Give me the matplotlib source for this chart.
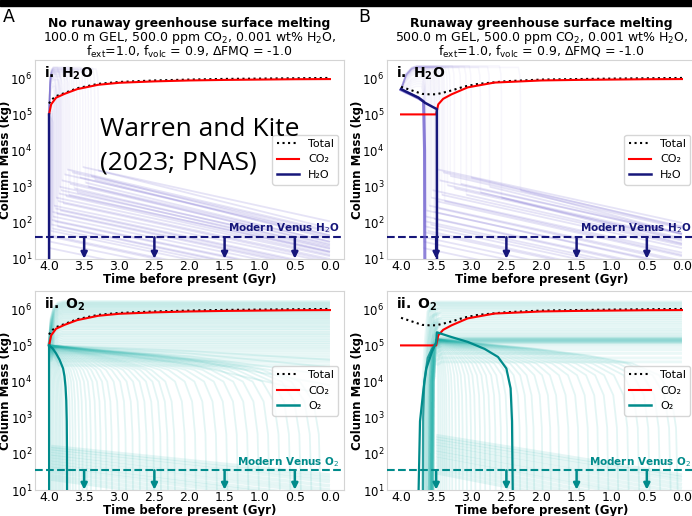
import matplotlib
matplotlib.use("Agg")
import matplotlib.pyplot as plt
from matplotlib.patches import Rectangle
from matplotlib.lines import Line2D

plt.rcParams['font.family'] = ['DejaVu Sans']
plt.rcParams['mathtext.fontset'] = 'dejavusans'

# ---------------- data ----------------
time_ticks = [4.0, 3.5, 3.0, 2.5, 2.0, 1.5, 1.0, 0.5, 0.0]
time_ticklabels = ["4.0", "3.5", "3.0", "2.5", "2.0", "1.5", "1.0", "0.5", "0.0"]
mass_ticks = [1e1, 1e2, 1e3, 1e4, 1e5, 1e6]
mass_ticklabels = [r"$10^{1}$", r"$10^{2}$", r"$10^{3}$", r"$10^{4}$", r"$10^{5}$", r"$10^{6}$"]
arrow_times = [3.5, 2.5, 1.5, 0.5]
venus_h2o = 40.0
venus_o2 = 35.0

panel_letters = ["A", "B"]
titles_bold = ["No runaway greenhouse surface melting", "Runaway greenhouse surface melting"]
titles_params = [r"100.0 m GEL, 500.0 ppm CO$_2$, 0.001 wt% H$_2$O,",
                 r"500.0 m GEL, 500.0 ppm CO$_2$, 0.001 wt% H$_2$O,"]
title_line3 = r"f$_{\rm ext}$=1.0, f$_{\rm volc}$ = 0.9, ΔFMQ = -1.0"
legend_labels = ["Total", "CO₂", "H₂O", "O₂"]

# ---- Panel A (no runaway) highlighted run ----
a_co2_t = [4.0, 3.97, 3.9, 3.78, 3.6, 3.3, 3.0, 2.5, 2.0, 1.5, 1.0, 0.5, 0.0]
a_co2_v = [1.0e5, 1.9e5, 2.9e5, 3.7e5, 5.0e5, 6.6e5, 7.5e5, 8.2e5, 8.7e5, 9.0e5, 9.2e5, 9.4e5, 9.5e5]
a_tot_t = [4.0, 3.97, 3.9, 3.78, 3.6, 3.3, 3.0, 2.5, 2.0, 1.5, 1.0, 0.5, 0.0]
a_tot_v = [2.0e5, 2.5e5, 3.2e5, 3.9e5, 5.3e5, 7.0e5, 7.9e5, 8.7e5, 9.2e5, 9.6e5, 9.8e5, 1.0e6, 1.02e6]
a_h2o_t = [4.0, 3.999]
a_h2o_v = [1.0e5, 1.0]
a_o2_t1 = [4.0, 3.999]
a_o2_v1 = [1.0e5, 1.0]
a_o2_t2 = [4.0, 3.95, 3.9, 3.85, 3.8, 3.78, 3.765, 3.755, 3.748, 3.744, 3.742]
a_o2_v2 = [1.0e5, 8.3e4, 6.0e4, 4.0e4, 2.3e4, 1.4e4, 7.0e3, 3.0e3, 8.0e2, 1.0e2, 1.0]

# ---- Panel B (runaway) highlighted run ----
b_co2_t = [4.0, 3.5, 3.47, 3.4, 3.28, 3.05, 2.67, 2.0, 1.5, 1.0, 0.5, 0.0]
b_co2_v = [1.0e5, 1.0e5, 1.9e5, 2.7e5, 3.6e5, 5.6e5, 7.6e5, 8.7e5, 9.0e5, 9.2e5, 9.4e5, 9.5e5]
b_tot_t = [4.0, 3.9, 3.8, 3.7, 3.6, 3.5, 3.4, 3.28, 3.1, 2.9, 2.5, 2.0, 1.0, 0.0]
b_tot_v = [5.8e5, 5.0e5, 4.3e5, 3.7e5, 3.6e5, 3.6e5, 4.0e5, 4.6e5, 5.9e5, 7.0e5, 8.3e5, 9.2e5, 9.8e5, 1.02e6]
b_h2o_t = [4.0, 3.9, 3.75, 3.66, 3.52, 3.49, 3.488]
b_h2o_v = [5.0e5, 4.0e5, 2.9e5, 2.1e5, 1.5e5, 1.4e5, 1.0]
b_h2o_alt_t = [4.0, 3.85, 3.75, 3.68, 3.665, 3.66]
b_h2o_alt_v = [4.8e5, 3.5e5, 2.8e5, 2.3e5, 1.0e4, 1.0]
b_o2_t = [3.755, 3.75, 3.73, 3.68, 3.64, 3.56, 3.52, 3.5, 3.49, 3.28, 3.05, 2.81, 2.62, 2.5, 2.44, 2.42, 2.41, 2.405]
b_o2_v = [1.0, 10.0, 8.0e2, 6.3e3, 2.3e4, 6.6e4, 1.0e5, 1.2e5, 2.3e5, 1.7e5, 1.25e5, 8.0e4, 4.8e4, 2.3e4, 6.5e3, 8.0e2, 11.0, 1.0]
b_o2_alt_t = [3.69, 3.685, 3.67, 3.62, 3.56, 3.51]
b_o2_alt_v = [1.0, 1.0e3, 1.0e4, 4.5e4, 8.0e4, 1.05e5]

# ---- faint ensemble (panel A, water): drop time, peak, value after drop, value today ----
a_h2o_bg_drop = [3.99, 3.98, 3.975, 3.97, 3.965, 3.96, 3.955, 3.95, 3.945, 3.94, 3.93, 3.92, 3.91,
                 3.9, 3.89, 3.88, 3.87, 3.86, 3.85, 3.84, 3.83, 3.82, 3.8, 3.78, 3.76, 3.74,
                 3.72, 3.7, 3.67, 3.64, 3.6, 3.56, 3.52, 3.48, 3.44, 3.4, 3.35, 3.3]
a_h2o_bg_peak = [2e5, 3e5, 4e5, 5e5, 6e5, 8e5, 7e5, 1.2e6, 9e5, 4e5, 1.5e6, 7e5, 1.1e6,
                 1.8e6, 1e6, 6e5, 1.4e6, 1.3e6, 2e6, 9e5, 1.6e6, 1.5e6, 1.1e6, 1.7e6, 1.3e6, 1.9e6,
                 1.2e6, 1.6e6, 2e6, 1.5e6, 1.4e6, 1.8e6, 2e6, 1.7e6, 1.5e6, 1.7e6, 1.9e6, 1.8e6]
a_h2o_bg_after = [20, 30, 45, 60, 90, 120, 70, 200, 150, 40, 300, 110, 250,
                  500, 180, 80, 400, 650, 1000, 220, 800, 1500, 350, 2200, 550, 3000,
                  600, 1200, 2500, 900, 700, 1800, 3500, 1300, 1000, 2000, 1600, 2800]
a_h2o_bg_end = [0.5, 0.8, 1.1, 1.5, 2.2, 3, 1.8, 5, 3.8, 1, 8, 2.8, 6,
                12, 4.5, 2, 10, 16, 22, 5.5, 19, 30, 9, 45, 13, 60,
                15, 26, 55, 20, 16, 40, 110, 30, 24, 45, 36, 70]

# ---- faint ensemble (panel B, water) ----
b_h2o_bg_drop = [3.68, 3.675, 3.67, 3.665, 3.66, 3.655, 3.65, 3.64, 3.62, 3.6, 3.58, 3.57,
                 3.55, 3.53, 3.52, 3.5, 3.48, 3.46, 3.45, 3.42, 3.4, 3.38, 3.34, 3.3, 3.24,
                 3.15, 3.07, 3.0, 2.87, 2.74, 2.57, 2.3]
b_h2o_bg_peak = [6e5, 7e5, 8e5, 9e5, 1e6, 1.1e6, 1.3e6, 1.4e6, 1.5e6, 1.6e6, 1.7e6, 1.8e6,
                 1.7e6, 1.9e6, 1.9e6, 2e6, 2e6, 2.1e6, 2.1e6, 1.8e6, 2e6, 2.1e6, 2e6, 2e6, 2.2e6,
                 2e6, 2.1e6, 2.2e6, 2e6, 2.1e6, 2.2e6, 2e6]
b_h2o_bg_after = [20, 30, 40, 55, 80, 110, 150, 220, 60, 300, 90, 500,
                  800, 130, 200, 400, 3000, 250, 1500, 600, 2500, 400, 1100, 2000, 900,
                  1200, 600, 1800, 700, 1000, 500, 800]
b_h2o_bg_end = [0.6, 0.9, 1.2, 1.7, 2.4, 3.3, 4.5, 6.5, 1.8, 9, 2.8, 15,
                24, 4, 6, 12, 100, 8, 50, 20, 80, 13, 38, 70, 35,
                48, 26, 75, 32, 50, 27, 50]

# ---- faint ensemble (oxygen) ----
o2_sink_frac = [0.0, 0.19, 0.41, 0.63, 0.81, 0.92, 0.97, 0.99, 1.0]
o2_sink_rel = [1.0, 0.74, 0.54, 0.35, 0.21, 0.10, 0.028, 0.0035, 1e-5]

a_o2_bg_level = [1.65e6, 1.55e6, 1.45e6, 1.38e6, 1.3e6, 1.22e6, 1.15e6, 1.08e6, 1.0e6, 9.3e5,
                 8.6e5, 8.0e5, 7.4e5, 6.8e5, 6.2e5, 5.7e5, 5.2e5, 4.7e5, 4.3e5, 3.9e5, 3.5e5,
                 3.2e5, 2.9e5, 2.6e5, 2.3e5, 2.1e5, 1.9e5, 1.7e5, 1.5e5, 1.35e5, 1.2e5, 1.08e5,
                 9.5e4, 8.5e4, 7.5e4, 6.5e4, 5.5e4, 4.7e4, 4e4, 3.4e4, 2.8e4]
a_o2_bg_sink_end = [3.98, 3.96, 3.94, 3.92, 3.9, 3.88, 3.86, 3.84, 3.82, 3.8, 3.77, 3.74, 3.7,
                    3.66, 3.62, 3.57, 3.52, 3.46, 3.4, 3.33, 3.26, 3.18, 3.1, 3.0, 2.9, 2.8,
                    2.7, 2.6, 2.5, 2.4, 2.3, 2.2, 2.05, 1.9, 1.75, 1.6, 1.45, 1.3, 1.15, 1.0,
                    0.85, 0.7, 0.55, 0.4, 0.25, 0.12]
a_o2_slow_mid = [7e4, 6e4, 5e4, 4e4, 3e4]
a_o2_slow_end = [4e4, 2.5e4, 1.5e4, 8e3, 4e3]
a_o2_low_start = [160, 140, 120, 100, 85, 70, 58, 48, 40, 32, 25, 20]
a_o2_low_end = [26, 21, 17, 13, 10, 8, 6, 5, 4, 3, 2.4, 1.8]

b_o2_bg_level = [1.6e6, 1.5e6, 1.4e6, 1.3e6, 1.2e6, 1.1e6, 1e6, 9e5, 8e5, 7e5, 6.2e5, 5.5e5,
                 4.8e5, 4.2e5, 3.7e5, 3.2e5, 2.8e5, 2.5e5, 2.2e5, 2e5, 1.8e5, 1.65e5, 1.6e5,
                 1.55e5, 1.5e5, 1.47e5, 1.44e5, 1.4e5, 1.37e5, 1.34e5, 1.3e5, 1.27e5, 1.24e5,
                 1.2e5, 1.15e5, 1.05e5, 9e4, 7.5e4, 6e4, 4.5e4, 3.5e4]
b_o2_bg_rise = [3.68, 3.66, 3.64, 3.62, 3.6, 3.58, 3.7, 3.56, 3.62, 3.66, 3.55, 3.6,
                3.57, 3.65, 3.58, 3.6, 3.55, 3.57, 3.62, 3.56, 3.58, 3.55, 3.6,
                3.57, 3.55, 3.59, 3.56, 3.58, 3.55, 3.57, 3.56, 3.6, 3.55,
                3.58, 3.56, 3.55, 3.6, 3.57, 3.55, 3.58, 3.56]
b_o2_bg_sink_end = [3.47, 3.44, 3.41, 3.38, 3.35, 3.31, 3.27, 3.22, 3.17, 3.12, 3.06, 3.0, 2.94,
                    2.87, 2.8, 2.73, 2.65, 2.57, 2.48, 2.39, 2.3, 2.2, 2.1, 1.98, 1.86, 1.74,
                    1.6, 1.46, 1.32, 1.18, 1.04, 0.9, 0.75, 0.6, 0.45, 0.3, 0.15, 0.05]
b_o2_low_start = [320, 270, 230, 190, 160, 130, 110, 90, 75, 60, 48, 38, 30]
b_o2_low_end = [26, 22, 18, 14, 11, 8.5, 6.5, 5, 4, 3, 2.3, 1.8, 1.4]

# ---------------- styles ----------------
H2O_BOLD = '#16167a'
H2O_FAINT = '#6a5acd'
O2_BOLD = '#008b8b'
O2_FAINT = '#20b2aa'

W, H = 692, 516
fig = plt.figure(figsize=(W / 100, H / 100), dpi=100)
fig.add_artist(Rectangle((0, 1 - 6 / H), 1, 6 / H, transform=fig.transFigure,
                         color='black', zorder=10))

ax_w = 309 / W
ax_h = 199 / H
lefts = [35 / W, 387 / W]
bottoms = [1 - 259 / H, 1 - 490 / H]


def style_axes(ax):
    ax.set_yscale('log')
    ax.set_xlim(4.2, -0.2)
    ax.set_ylim(10, 3.2e6)
    ax.set_xticks(time_ticks)
    ax.set_xticklabels(time_ticklabels)
    ax.set_yticks(mass_ticks)
    ax.set_yticklabels(mass_ticklabels)
    ax.minorticks_off()
    ax.tick_params(axis='x', length=0, labelsize=9, pad=1)
    ax.tick_params(axis='y', length=0, labelsize=8.5, pad=2)
    for s in ax.spines.values():
        s.set_color('#d4d4d4')
        s.set_linewidth(0.8)
    ax.set_xlabel("Time before present (Gyr)", fontsize=8.5, fontweight='bold', labelpad=0)
    ax.set_ylabel("Column Mass (kg)", fontsize=8.5, fontweight='bold')
    ax.yaxis.set_label_coords(-23 / 309, 0.5)


def venus(ax, level, color, text):
    ax.axhline(level, color=color, ls='--', lw=1.5, zorder=4)
    ax.text(0.985, level * 1.12, text, transform=ax.get_yaxis_transform(),
            ha='right', va='bottom', fontsize=7.5, fontweight='bold', color=color, zorder=5)
    for t in arrow_times:
        ax.annotate('', xy=(t, 10.2), xytext=(t, level),
                    arrowprops=dict(arrowstyle='-|>', color=color, lw=1.8,
                                    mutation_scale=9, shrinkA=0, shrinkB=0), zorder=5)


def faint(ax, t, v, color, lw=1.2, alpha=0.1):
    ax.plot(t, v, color=color, lw=lw, alpha=alpha, zorder=1, solid_capstyle='butt')


def sink_curve(t0, v0, te):
    ts = [t0 - f * (t0 - te) for f in o2_sink_frac]
    vs = [v0 * r for r in o2_sink_rel]
    return ts, vs


def legend(ax, gas_label, gas_color):
    ax.legend(handles=[Line2D([], [], color='black', ls=':', lw=1.5),
                       Line2D([], [], color='red', lw=1.5),
                       Line2D([], [], color=gas_color, lw=1.8)],
              labels=[legend_labels[0], legend_labels[1], gas_label],
              loc='center right', fontsize=8)


axes = {}
for col in range(2):
    for row in range(2):
        axes[(row, col)] = fig.add_axes([lefts[col], bottoms[row], ax_w, ax_h])

# ---------- Panel A i (water) ----------
ax = axes[(0, 0)]
style_axes(ax)
for td, pk, sa, en in zip(a_h2o_bg_drop, a_h2o_bg_peak, a_h2o_bg_after, a_h2o_bg_end):
    ts = [4.0]
    vs = [1.0e5]
    if td < 3.93:
        ts += [3.985, 3.965, 3.94, td + 0.03, td + 0.008]
        vs += [pk * 0.5, pk * 0.85, pk, pk, pk * 0.6]
    ts += [td, td]
    vs += [pk * 0.15, sa]
    faint(ax, ts, vs, H2O_FAINT, lw=1.1, alpha=0.06)
    faint(ax, [td, 0.0], [sa, en], H2O_FAINT, lw=1.3, alpha=0.17)
ax.plot(a_tot_t, a_tot_v, color='black', ls=':', lw=1.5, zorder=6)
ax.plot(a_co2_t, a_co2_v, color='red', lw=1.5, zorder=6)
ax.plot(a_h2o_t, a_h2o_v, color=H2O_BOLD, lw=1.8, zorder=6)
venus(ax, venus_h2o, H2O_BOLD, r"Modern Venus H$_2$O")
ax.text(0.028, 0.975, r"$\mathbf{i.\ H_2O}$", transform=ax.transAxes, ha='left', va='top',
        fontsize=10, zorder=8)
legend(ax, legend_labels[2], H2O_BOLD)

# ---------- Panel B i (water) ----------
ax = axes[(0, 1)]
style_axes(ax)
for td, pk, sa, en in zip(b_h2o_bg_drop, b_h2o_bg_peak, b_h2o_bg_after, b_h2o_bg_end):
    ts = [4.0, 3.93, 3.85, 3.78, td + 0.03, td + 0.008, td, td]
    vs = [5.0e5, pk * 0.6, pk * 0.9, pk, pk, pk * 0.6, pk * 0.15, sa]
    faint(ax, ts, vs, H2O_FAINT, lw=1.1, alpha=0.05)
    faint(ax, [td, 0.0], [sa, en], H2O_FAINT, lw=1.3, alpha=0.17)
ax.plot(b_h2o_alt_t, b_h2o_alt_v, color=H2O_FAINT, lw=2.2, alpha=0.75, zorder=5)
ax.plot(b_tot_t, b_tot_v, color='black', ls=':', lw=1.5, zorder=6)
ax.plot(b_co2_t, b_co2_v, color='red', lw=1.5, zorder=6)
ax.plot(b_h2o_t, b_h2o_v, color=H2O_BOLD, lw=1.8, zorder=6)
venus(ax, venus_h2o, H2O_BOLD, r"Modern Venus H$_2$O")
ax.text(0.028, 0.975, r"$\mathbf{i.\ H_2O}$", transform=ax.transAxes, ha='left', va='top',
        fontsize=10, zorder=8)
legend(ax, legend_labels[2], H2O_BOLD)

# ---------- Panel A ii (oxygen) ----------
ax = axes[(1, 0)]
style_axes(ax)
for lv in a_o2_bg_level:
    if lv > 1.0e5:
        ts = [4.0, 3.97, 3.93, 3.87, 3.8, 0.0]
        vs = [1.0e5, lv * 0.35, lv * 0.7, lv * 0.92, lv, lv]
    else:
        ts = [4.0, 3.85, 0.0]
        vs = [1.0e5, lv, lv]
    faint(ax, ts, vs, O2_FAINT, lw=2.0, alpha=0.09)
for te in a_o2_bg_sink_end:
    ts, vs = sink_curve(4.0, 1.0e5, te)
    faint(ax, ts, vs, O2_FAINT, lw=1.3, alpha=0.12)
for vm, ve in zip(a_o2_slow_mid, a_o2_slow_end):
    faint(ax, [4.0, 2.0, 0.0], [1.0e5, vm, ve], O2_FAINT, lw=1.3, alpha=0.12)
for s0, e0 in zip(a_o2_low_start, a_o2_low_end):
    faint(ax, [3.97, 0.0], [s0, e0], O2_FAINT, lw=2.5, alpha=0.11)
ax.plot(a_tot_t, a_tot_v, color='black', ls=':', lw=1.5, zorder=6)
ax.plot(a_co2_t, a_co2_v, color='red', lw=1.5, zorder=6)
ax.plot(a_o2_t1, a_o2_v1, color=O2_BOLD, lw=1.6, zorder=6)
ax.plot(a_o2_t2, a_o2_v2, color=O2_BOLD, lw=1.6, zorder=6)
venus(ax, venus_o2, O2_BOLD, r"Modern Venus O$_2$")
ax.text(0.028, 0.975, r"$\mathbf{ii.\ O_2}$", transform=ax.transAxes, ha='left', va='top',
        fontsize=10, zorder=8)
legend(ax, legend_labels[3], O2_BOLD)

# ---------- Panel B ii (oxygen) ----------
ax = axes[(1, 1)]
style_axes(ax)
for lv, rs in zip(b_o2_bg_level, b_o2_bg_rise):
    ts = [rs, rs - 0.012, rs - 0.04, rs - 0.08, rs - 0.14, 0.0]
    vs = [1.0, 1.0e4, min(lv, 1.0e5), lv * 0.85, lv, lv]
    faint(ax, ts, vs, O2_FAINT, lw=2.0, alpha=0.09)
for te in b_o2_bg_sink_end:
    ts, vs = sink_curve(3.5, 1.5e5, te)
    faint(ax, ts, vs, O2_FAINT, lw=1.3, alpha=0.12)
for s0, e0 in zip(b_o2_low_start, b_o2_low_end):
    faint(ax, [3.5, 0.0], [s0, e0], O2_FAINT, lw=2.5, alpha=0.11)
ax.plot(b_tot_t, b_tot_v, color='black', ls=':', lw=1.5, zorder=6)
ax.plot(b_co2_t, b_co2_v, color='red', lw=1.5, zorder=6)
ax.plot(b_o2_alt_t, b_o2_alt_v, color=O2_BOLD, lw=1.6, alpha=0.8, zorder=6)
ax.plot(b_o2_t, b_o2_v, color=O2_BOLD, lw=1.6, zorder=6)
venus(ax, venus_o2, O2_BOLD, r"Modern Venus O$_2$")
ax.text(0.028, 0.975, r"$\mathbf{ii.\ O_2}$", transform=ax.transAxes, ha='left', va='top',
        fontsize=10, zorder=8)
legend(ax, legend_labels[3], O2_BOLD)

# ---------- titles ----------
for col in range(2):
    cx = lefts[col] + ax_w / 2
    fig.text(cx, 1 - 23 / H, titles_bold[col], ha='center', va='center',
             fontsize=8.9, fontweight='bold')
    fig.text(cx, 1 - 37.5 / H, titles_params[col], ha='center', va='center', fontsize=9)
    fig.text(cx, 1 - 52 / H, title_line3, ha='center', va='center', fontsize=9)
fig.text(3 / W, 1 - 17 / H, panel_letters[0], ha='left', va='center', fontsize=12.5)
fig.text(358 / W, 1 - 17 / H, panel_letters[1], ha='left', va='center', fontsize=12.5)

fig.text(100 / W, 1 - 117 / H, "Warren and Kite\n(2023; PNAS)", ha='left', va='top',
         fontsize=19, family=['Open Sans', 'DejaVu Sans'], linespacing=1.45, zorder=9)

fig.savefig("out.png", dpi=100)
